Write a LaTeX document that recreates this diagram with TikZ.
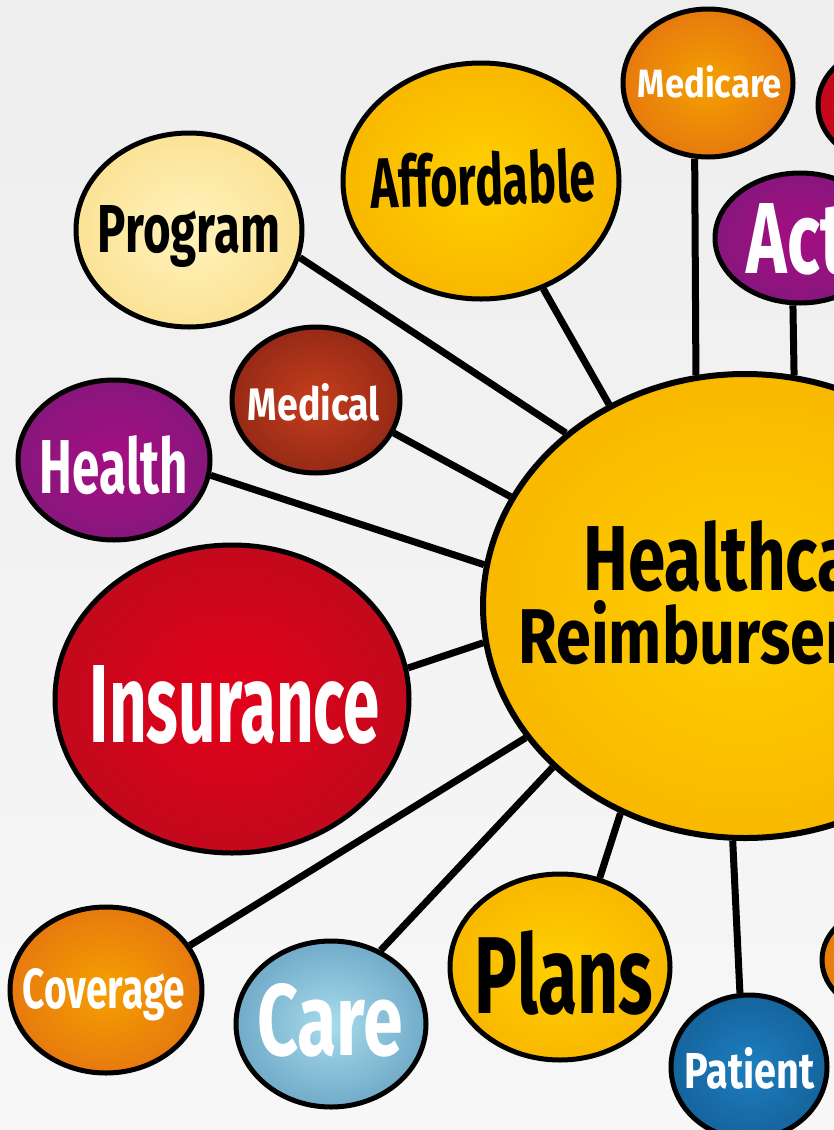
\documentclass[tikz,border=0pt]{standalone}
\usepackage{fontspec}
\setmainfont{Fira Sans}
\usepackage{graphicx}
\usetikzlibrary{shapes.geometric}

\definecolor{ylwIn}{HTML}{FFD000}
\definecolor{ylwOut}{HTML}{F2A000}
\definecolor{paleIn}{HTML}{FFF3BC}
\definecolor{paleOut}{HTML}{F7D270}
\definecolor{orgIn}{HTML}{F5A000}
\definecolor{orgOut}{HTML}{D8541C}
\definecolor{marIn}{HTML}{C63E1C}
\definecolor{marOut}{HTML}{661610}
\definecolor{purIn}{HTML}{A50E82}
\definecolor{purOut}{HTML}{6A1E78}
\definecolor{redIn}{HTML}{E4001A}
\definecolor{redOut}{HTML}{A0121E}
\definecolor{lbIn}{HTML}{A8DCEC}
\definecolor{lbOut}{HTML}{3A7AA6}
\definecolor{dbIn}{HTML}{1E7EBE}
\definecolor{dbOut}{HTML}{0C4A7C}
\definecolor{bgTop}{HTML}{EEEEEE}
\definecolor{bgBot}{HTML}{F7F7F7}

\pgfdeclareradialshading{shYellow}{\pgfpoint{0bp}{0bp}}{color(0bp)=(ylwIn); color(50bp)=(ylwOut)}
\pgfdeclareradialshading{shPale}{\pgfpoint{0bp}{0bp}}{color(0bp)=(paleIn); color(50bp)=(paleOut)}
\pgfdeclareradialshading{shOrange}{\pgfpoint{0bp}{0bp}}{color(0bp)=(orgIn); color(50bp)=(orgOut)}
\pgfdeclareradialshading{shMaroon}{\pgfpoint{0bp}{0bp}}{color(0bp)=(marIn); color(50bp)=(marOut)}
\pgfdeclareradialshading{shPurple}{\pgfpoint{0bp}{0bp}}{color(0bp)=(purIn); color(50bp)=(purOut)}
\pgfdeclareradialshading{shRed}{\pgfpoint{0bp}{0bp}}{color(0bp)=(redIn); color(50bp)=(redOut)}
\pgfdeclareradialshading{shLBlue}{\pgfpoint{0bp}{0bp}}{color(0bp)=(lbIn); color(50bp)=(lbOut)}
\pgfdeclareradialshading{shDBlue}{\pgfpoint{0bp}{0bp}}{color(0bp)=(dbIn); color(50bp)=(dbOut)}

\newcommand\lbl[3]{\resizebox{#1}{#2}{\bfseries #3}}

\tikzset{
  bub/.style={ellipse, draw=black, line width=5pt, inner sep=0pt, shade, shading=#1},
  link/.style={draw=black, line width=7pt},
  wtxt/.style={text=white, anchor=base, inner sep=0pt},
  btxt/.style={text=black, anchor=base, inner sep=0pt},
}

\begin{document}
\begin{tikzpicture}[x=1pt,y=-1pt]
\useasboundingbox (0,0) rectangle (834,1130);
\clip (0,0) rectangle (834,1130);
\shade[top color=bgTop, bottom color=bgBot] (0,0) rectangle (834,1130);

% bubbles
\node[bub=shYellow, minimum width=524pt, minimum height=464pt, line width=6pt] (hub) at (745,606) {};
\node[bub=shOrange, minimum width=170pt, minimum height=148pt] (medicare) at (708,83) {};
\node[bub=shRed, minimum width=124pt, minimum height=110pt] (topred) at (880,105) {};
\node[bub=shPurple, minimum width=170pt, minimum height=130pt] (act) at (800,238) {};
\node[bub=shYellow, minimum width=276pt, minimum height=236pt] (afford) at (481,181) {};
\node[bub=shPale, minimum width=226pt, minimum height=194pt] (prog) at (189,230) {};
\node[bub=shMaroon, minimum width=168pt, minimum height=146pt] (medical) at (316,400) {};
\node[bub=shPurple, minimum width=192pt, minimum height=160pt] (health) at (114,460) {};
\node[bub=shRed, minimum width=354pt, minimum height=308pt] (insur) at (232,699) {};
\node[bub=shOrange, minimum width=192pt, minimum height=166pt] (cover) at (106,990) {};
\node[bub=shLBlue, minimum width=190pt, minimum height=166pt] (care) at (331,1024) {};
\node[bub=shYellow, minimum width=220pt, minimum height=186pt] (plans) at (560,967) {};
\node[bub=shDBlue, minimum width=156pt, minimum height=144pt] (patient) at (749,1067) {};
\node[bub=shOrange, minimum width=126pt, minimum height=104pt] (botorg) at (885,960) {};

% connectors
\draw[link] (medicare.-100) -- (hub.102);
\draw[link] (act.-96) -- (hub.78);
\draw[link] (afford.-60) -- (hub.124);
\draw[link] (prog.-14) -- (hub.136);
\draw[link] (medical.-23) -- (hub.155);
\draw[link] (health.-9) -- (hub.171);
\draw[link] (insur.10) -- (hub.-172);
\draw[link] (cover.28) -- (hub.-149);
\draw[link] (care.56) -- (hub.-140);
\draw[link] (plans.66) -- (hub.-121);
\draw[link] (patient.97) -- (hub.-93);

% labels
\node[btxt] (hub-t1) at (750,590) {\lbl{333pt}{70pt}{Healthcare}};
\node[btxt] (hub-t2) at (746,663) {\lbl{455pt}{63pt}{Reimbursement}};
\node[wtxt] (medicare-t) at (710,97) {\lbl{144pt}{32pt}{Medicare}};
\node[wtxt] (act-t) at (797,273) {\lbl{100pt}{70pt}{Act}};
\node[btxt, rotate=2] (afford-t) at (484,205) {\lbl{225pt}{54pt}{Affordable}};
\node[btxt] (prog-t) at (189,252) {\lbl{182pt}{47pt}{Program}};
\node[wtxt] (medical-t) at (314,420) {\lbl{132pt}{37pt}{Medical}};
\node[wtxt] (health-t) at (114,493) {\lbl{148pt}{58pt}{Health}};
\node[wtxt] (insur-t) at (235,742) {\lbl{290pt}{77pt}{Insurance}};
\node[wtxt] (cover-t) at (104,1008) {\lbl{162pt}{40pt}{Coverage}};
\node[wtxt] (care-t) at (330,1055) {\lbl{146pt}{72pt}{Care}};
\node[btxt] (plans-t) at (564,1013) {\lbl{178pt}{83pt}{Plans}};
\node[wtxt] (patient-t) at (750,1088) {\lbl{130pt}{41pt}{Patient}};
\end{tikzpicture}
\end{document}
